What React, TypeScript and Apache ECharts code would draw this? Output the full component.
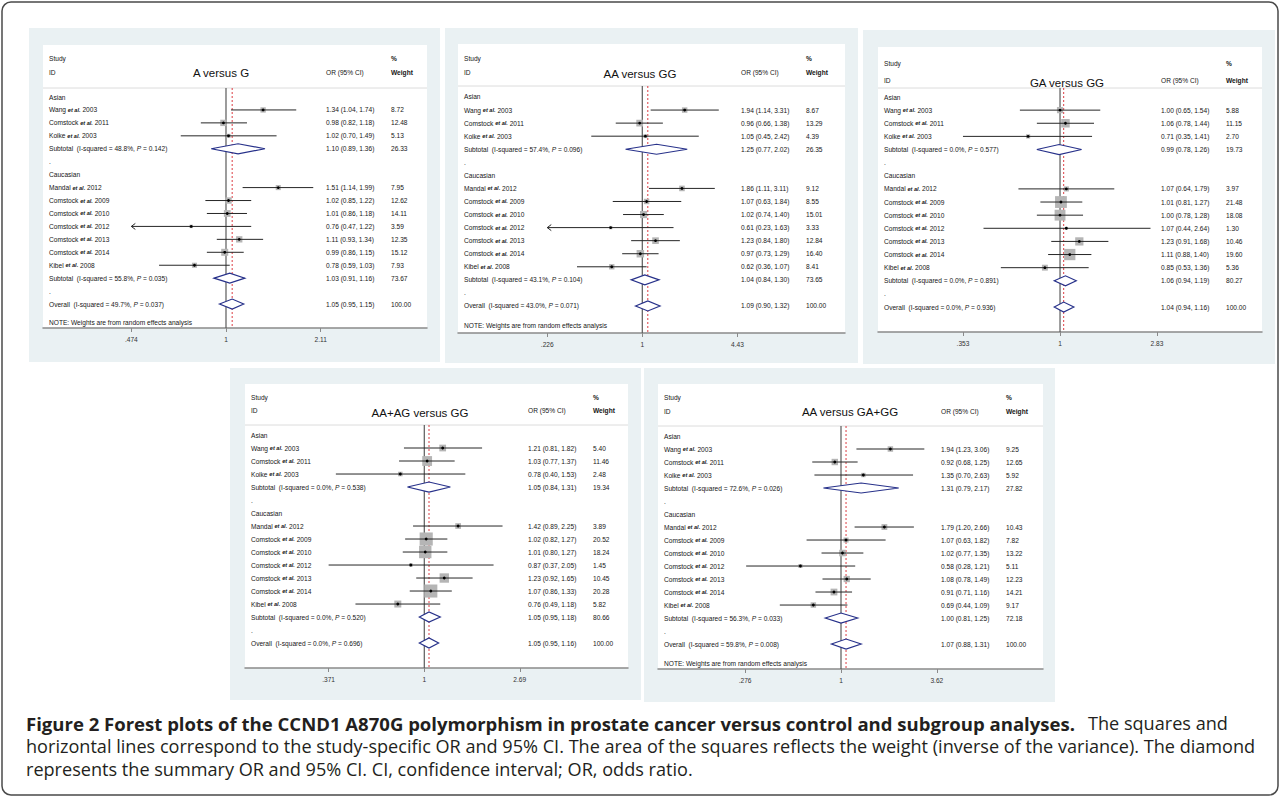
import React, { useEffect, useRef } from "react";
import * as echarts from "echarts";

// ---------- DATA ----------
const asianStudies = ["Wang", "Comstock", "Koike"];
const asianYears = ["2003", "2011", "2003"];
const caucasianStudies = ["Mandal", "Comstock", "Comstock", "Comstock", "Comstock", "Comstock", "Kibel"];
const caucasianYears = ["2012", "2009", "2010", "2012", "2013", "2014", "2008"];

const titles = ["A versus G", "AA versus GG", "GA versus GG", "AA+AG versus GG", "AA versus GA+GG"];

// order in every array: 3 Asian studies, Asian subtotal, 7 Caucasian studies, Caucasian subtotal, overall
const orAvG = [1.34, 0.98, 1.02, 1.1, 1.51, 1.02, 1.01, 0.76, 1.11, 0.99, 0.78, 1.03, 1.05];
const loAvG = [1.04, 0.82, 0.7, 0.89, 1.14, 0.85, 0.86, 0.47, 0.93, 0.86, 0.59, 0.91, 0.95];
const hiAvG = [1.74, 1.18, 1.49, 1.36, 1.99, 1.22, 1.18, 1.22, 1.34, 1.15, 1.03, 1.16, 1.15];
const wAvG = [8.72, 12.48, 5.13, 26.33, 7.95, 12.62, 14.11, 3.59, 12.35, 15.12, 7.93, 73.67, 100.0];
const i2AvG = ["48.8%", "55.8%", "49.7%"];
const pAvG = ["0.142", "0.035", "0.037"];
const ticksAvG = [0.474, 1, 2.11];
const tickLabelsAvG = [".474", "1", "2.11"];

const orAAvGG = [1.94, 0.96, 1.05, 1.25, 1.86, 1.07, 1.02, 0.61, 1.23, 0.97, 0.62, 1.04, 1.09];
const loAAvGG = [1.14, 0.66, 0.45, 0.77, 1.11, 0.63, 0.74, 0.225, 0.84, 0.73, 0.36, 0.84, 0.9];
const hiAAvGG = [3.31, 1.38, 2.42, 2.02, 3.11, 1.84, 1.4, 1.63, 1.8, 1.29, 1.07, 1.3, 1.32];
const wAAvGG = [8.67, 13.29, 4.39, 26.35, 9.12, 8.55, 15.01, 3.33, 12.84, 16.4, 8.41, 73.65, 100.0];
const i2AAvGG = ["57.4%", "43.1%", "43.0%"];
const pAAvGG = ["0.096", "0.104", "0.071"];
const ticksAAvGG = [0.226, 1, 4.43];
const tickLabelsAAvGG = [".226", "1", "4.43"];

const orGAvGG = [1.0, 1.06, 0.71, 0.99, 1.07, 1.01, 1.0, 1.07, 1.23, 1.11, 0.85, 1.06, 1.04];
const loGAvGG = [0.65, 0.78, 0.353, 0.78, 0.64, 0.81, 0.78, 0.44, 0.91, 0.88, 0.53, 0.94, 0.94];
const hiGAvGG = [1.54, 1.44, 1.41, 1.26, 1.79, 1.27, 1.28, 2.64, 1.68, 1.4, 1.36, 1.19, 1.16];
const wGAvGG = [5.88, 11.15, 2.7, 19.73, 3.97, 21.48, 18.08, 1.3, 10.46, 19.6, 5.36, 80.27, 100.0];
const i2GAvGG = ["0.0%", "0.0%", "0.0%"];
const pGAvGG = ["0.577", "0.891", "0.936"];
const ticksGAvGG = [0.353, 1, 2.83];
const tickLabelsGAvGG = [".353", "1", "2.83"];

const orDom = [1.21, 1.03, 0.78, 1.05, 1.42, 1.02, 1.01, 0.87, 1.23, 1.07, 0.76, 1.05, 1.05];
const loDom = [0.81, 0.77, 0.4, 0.84, 0.89, 0.82, 0.8, 0.371, 0.92, 0.86, 0.49, 0.95, 0.95];
const hiDom = [1.82, 1.37, 1.53, 1.31, 2.25, 1.27, 1.27, 2.05, 1.65, 1.33, 1.18, 1.18, 1.16];
const wDom = [5.4, 11.46, 2.48, 19.34, 3.89, 20.52, 18.24, 1.45, 10.45, 20.28, 5.82, 80.66, 100.0];
const i2Dom = ["0.0%", "0.0%", "0.0%"];
const pDom = ["0.538", "0.520", "0.696"];
const ticksDom = [0.371, 1, 2.69];
const tickLabelsDom = [".371", "1", "2.69"];

const orRec = [1.94, 0.92, 1.35, 1.31, 1.79, 1.07, 1.02, 0.58, 1.08, 0.91, 0.69, 1.0, 1.07];
const loRec = [1.23, 0.68, 0.7, 0.79, 1.2, 0.63, 0.77, 0.28, 0.78, 0.71, 0.44, 0.81, 0.88];
const hiRec = [3.06, 1.25, 2.63, 2.17, 2.66, 1.82, 1.35, 1.21, 1.49, 1.16, 1.09, 1.25, 1.31];
const wRec = [9.25, 12.65, 5.92, 27.82, 10.43, 7.82, 13.22, 5.11, 12.23, 14.21, 9.17, 72.18, 100.0];
const i2Rec = ["72.6%", "56.3%", "59.8%"];
const pRec = ["0.026", "0.033", "0.008"];
const ticksRec = [0.276, 1, 3.62];
const tickLabelsRec = [".276", "1", "3.62"];

const noteText = "NOTE: Weights are from random effects analysis";
const captionBold = "Figure 2 Forest plots of the CCND1 A870G polymorphism in prostate cancer versus control and subgroup analyses.";
const captionLine1Rest = "The squares and";
const captionLine2 = "horizontal lines correspond to the study-specific OR and 95% CI. The area of the squares reflects the weight (inverse of the variance). The diamond";
const captionLine3 = "represents the summary OR and 95% CI. CI, confidence interval; OR, odds ratio.";

// ---------- LAYOUT / STYLE ----------
const FF = '"Liberation Sans", Arial, Helvetica, sans-serif';
const CAP_FF = '"Open Sans", "Noto Sans", sans-serif';
const FS = 6.6;
const BG = "#eaf1f3";
const TXT = "#161616";

const panelData = [
  { or: orAvG, lo: loAvG, hi: hiAvG, w: wAvG, i2: i2AvG, p: pAvG, ticks: ticksAvG, tl: tickLabelsAvG, note: true },
  { or: orAAvGG, lo: loAAvGG, hi: hiAAvGG, w: wAAvGG, i2: i2AAvGG, p: pAAvGG, ticks: ticksAAvGG, tl: tickLabelsAAvGG, note: true },
  { or: orGAvGG, lo: loGAvGG, hi: hiGAvGG, w: wGAvGG, i2: i2GAvGG, p: pGAvGG, ticks: ticksGAvGG, tl: tickLabelsGAvGG, note: false },
  { or: orDom, lo: loDom, hi: hiDom, w: wDom, i2: i2Dom, p: pDom, ticks: ticksDom, tl: tickLabelsDom, note: false },
  { or: orRec, lo: loRec, hi: hiRec, w: wRec, i2: i2Rec, p: pRec, ticks: ticksRec, tl: tickLabelsRec, note: true },
];

const layouts = [
  { il: 43, it: 45, ir: 427, ib: 328, outer: [29, 28, 440, 362], sep: 88, studyY: 58, idY: 72, titleY: 73, titleX: 178, lnMin: -1.443, lnMax: 1.585, yMin: -0.696, yMax: 17.85, k: 1.8 },
  { il: 458, it: 44, ir: 845, ib: 333, outer: [445, 28, 858, 363], sep: 86, studyY: 58, idY: 72, titleY: 74, titleX: 182, lnMin: -2.884, lnMax: 3.172, yMin: -0.842, yMax: 18.07, k: 1.85 },
  { il: 878, it: 47, ir: 1262, ib: 332, outer: [863, 30, 1275, 364], sep: 88, studyY: 63, idY: 80, titleY: 83, titleX: 189, lnMin: -1.953, lnMax: 2.167, yMin: -0.686, yMax: 17.9, k: 2.55 },
  { il: 245, it: 384, ir: 628, ib: 668, outer: [230, 368, 641, 700], sep: 425, studyY: 397, idY: 410, titleY: 413, titleX: 175, lnMin: -1.858, lnMax: 2.111, yMin: -0.77, yMax: 17.92, k: 2.9 },
  { il: 658, it: 384, ir: 1043, ib: 669, outer: [644, 368, 1055, 702], sep: 426, studyY: 397, idY: 411, titleY: 412, titleX: 192, lnMin: -2.456, lnMax: 2.711, yMin: -0.77, yMax: 17.92, k: 1.8 },
];

const OR_COL = 283;
const W_COL = 348;
const NAME_COL = 6;

type Row = { row: number; kind: "label" | "study" | "diamond"; text: string; idx?: number };

function buildRows(note: boolean): Row[] {
  const rows: Row[] = [];
  rows.push({ row: 0, kind: "label", text: "Asian" });
  asianStudies.forEach((s, i) => rows.push({ row: 1 + i, kind: "study", text: `${s} {i|et al.} ${asianYears[i]}`, idx: i }));
  rows.push({ row: 4, kind: "diamond", text: "sub0", idx: 3 });
  rows.push({ row: 5, kind: "label", text: "." });
  rows.push({ row: 6, kind: "label", text: "Caucasian" });
  caucasianStudies.forEach((s, i) => rows.push({ row: 7 + i, kind: "study", text: `${s} {i|et al.} ${caucasianYears[i]}`, idx: 4 + i }));
  rows.push({ row: 14, kind: "diamond", text: "sub1", idx: 11 });
  rows.push({ row: 15, kind: "label", text: "." });
  rows.push({ row: 16, kind: "diamond", text: "overall", idx: 12 });
  if (note) rows.push({ row: 17.46, kind: "label", text: noteText });
  return rows;
}

const nameRich = {
  i: { fontStyle: "italic", fontWeight: "bold", fontSize: 5.6, fontFamily: FF, fill: TXT },
  ip: { fontStyle: "italic", fontSize: FS, fontFamily: FF, fill: TXT },
};

function txt(text: string, x: number, y: number, extra: any = {}) {
  return {
    type: "text",
    style: {
      text,
      x,
      y,
      fill: TXT,
      fontSize: FS,
      fontFamily: FF,
      align: "left",
      textAlign: "left",
      verticalAlign: "middle",
      textVerticalAlign: "middle",
      rich: nameRich,
      ...extra,
    },
  };
}

function capText(text: string, x: number, y: number, align: string, bold: boolean) {
  return {
    type: "text",
    z: 10,
    style: {
      text,
      x,
      y,
      fill: "#231f20",
      fontSize: bold ? 18.55 : 18.1,
      fontWeight: bold ? "bold" : "normal",
      fontFamily: CAP_FF,
      align,
      textAlign: align,
      verticalAlign: "middle",
      textVerticalAlign: "middle",
    },
  };
}

function buildOption() {
  const grids: any[] = [];
  const xAxes: any[] = [];
  const yAxes: any[] = [];
  const series: any[] = [];
  const elements: any[] = [];

  // figure border
  elements.push({
    type: "rect",
    z: -20,
    shape: { x: 2, y: 2, width: 1276, height: 793, r: 9 },
    style: { fill: "#ffffff", stroke: "#4a4a4a", lineWidth: 1.5 },
  });

  panelData.forEach((pd, pi) => {
    const L = layouts[pi];
    const tickVals = pd.ticks.map((t) => Math.log(t));
    const lnTLo = tickVals[0];
    const lnTHi = tickVals[2];
    grids.push({ left: L.il, top: L.sep, width: L.ir - L.il, height: L.ib - L.sep, containLabel: false });
    xAxes.push({
      type: "value",
      gridIndex: pi,
      min: L.lnMin,
      max: L.lnMax,
      axisLine: { show: true, onZero: false, lineStyle: { color: "#8a8a8a", width: 1.5 } },
      axisTick: { show: true, inside: false, length: 4, customValues: tickVals, lineStyle: { color: "#8a8a8a", width: 1 } },
      axisLabel: {
        show: true,
        customValues: tickVals,
        margin: 8,
        fontSize: FS,
        fontFamily: FF,
        color: "#333",
        formatter: (v: number) => {
          const j = tickVals.findIndex((t) => Math.abs(t - v) < 1e-6);
          return j >= 0 ? pd.tl[j] : "";
        },
      },
      splitLine: { show: false },
    });
    yAxes.push({ type: "value", gridIndex: pi, inverse: true, min: L.yMin, max: L.yMax, show: false });

    // reference lines (OR = 1 and overall OR)
    const lnOverall = Math.log(pd.or[12]);
    series.push({
      type: "custom",
      xAxisIndex: pi,
      yAxisIndex: pi,
      silent: true,
      clip: false,
      z: 2,
      data: [[0, 0]],
      renderItem: (params: any, api: any) => {
        const cs = params.coordSys;
        const x1 = api.coord([0, 0])[0];
        const xo = api.coord([lnOverall, 0])[0];
        return {
          type: "group",
          children: [
            { type: "line", shape: { x1: x1, y1: cs.y, x2: x1, y2: cs.y + cs.height }, style: { stroke: "#5a5a5a", lineWidth: 1.2 } },
            { type: "line", shape: { x1: xo, y1: cs.y, x2: xo, y2: cs.y + cs.height }, style: { stroke: "#d8282f", lineWidth: 0.9, lineDash: [2, 2] } },
          ],
        };
      },
    });

    const rows = buildRows(pd.note);
    series.push({
      type: "custom",
      xAxisIndex: pi,
      yAxisIndex: pi,
      silent: true,
      clip: false,
      z: 3,
      data: rows.map((r) => [r.idx != null ? Math.log(pd.or[r.idx]) : 0, r.row]),
      renderItem: (params: any, api: any) => {
        const r = rows[params.dataIndex];
        const cs = params.coordSys;
        const y = api.coord([0, r.row])[1];
        const children: any[] = [];
        let label = r.text;
        if (r.kind === "diamond") {
          const head = r.text === "overall" ? "Overall" : "Subtotal";
          const hi = r.text === "sub0" ? 0 : r.text === "sub1" ? 1 : 2;
          label = `${head}  (I-squared = ${pd.i2[hi]}, {ip|P} = ${pd.p[hi]})`;
        }
        children.push(txt(label, cs.x + NAME_COL, y));
        if (r.idx != null) {
          const j = r.idx;
          const orv = pd.or[j];
          const lov = pd.lo[j];
          const hiv = pd.hi[j];
          children.push(txt(`${orv.toFixed(2)} (${lov.toFixed(2)}, ${hiv.toFixed(2)})`, cs.x + OR_COL, y));
          children.push(txt(pd.w[j].toFixed(2), cs.x + W_COL, y));
          const lnLo = Math.log(lov);
          const lnHi = Math.log(hiv);
          const xc = api.coord([Math.log(orv), r.row])[0];
          if (r.kind === "study") {
            const x0 = api.coord([Math.max(lnLo, lnTLo), r.row])[0];
            const x1 = api.coord([Math.min(lnHi, lnTHi), r.row])[0];
            const s = L.k * Math.sqrt(pd.w[j]);
            children.push({ type: "rect", shape: { x: xc - s / 2, y: y - s / 2, width: s, height: s }, style: { fill: "#b5b5b5" } });
            children.push({ type: "line", shape: { x1: x0, y1: y, x2: x1, y2: y }, style: { stroke: "#262626", lineWidth: 1 } });
            children.push({ type: "circle", shape: { cx: xc, cy: y, r: 1.4 }, style: { fill: "#000" } });
            if (lnLo < lnTLo - 1e-9) {
              children.push({
                type: "polyline",
                shape: { points: [[x0 + 4, y - 3], [x0, y], [x0 + 4, y + 3]] },
                style: { stroke: "#262626", lineWidth: 1, fill: "none" },
              });
            }
          } else {
            const x0 = api.coord([lnLo, r.row])[0];
            const x1 = api.coord([lnHi, r.row])[0];
            children.push({
              type: "polygon",
              shape: { points: [[x0, y], [xc, y - 5], [x1, y], [xc, y + 5]] },
              style: { fill: "#ffffff", stroke: "#27318a", lineWidth: 1.2 },
            });
          }
        }
        return { type: "group", children };
      },
    });

    // panel backgrounds & header
    const [ox0, oy0, ox1, oy1] = L.outer;
    elements.push({ type: "rect", z: -15, shape: { x: ox0, y: oy0, width: ox1 - ox0, height: oy1 - oy0 }, style: { fill: BG } });
    elements.push({ type: "rect", z: -14, shape: { x: L.il, y: L.it, width: L.ir - L.il, height: L.ib - L.it }, style: { fill: "#ffffff" } });
    elements.push({ type: "line", z: -13, shape: { x1: L.il, y1: L.sep, x2: L.ir, y2: L.sep }, style: { stroke: "#dcdcdc", lineWidth: 1 } });
    const hdr = (t: string, x: number, y: number, extra: any = {}) => ({ ...txt(t, x, y, extra), z: 10 });
    elements.push(hdr("Study", L.il + NAME_COL, L.studyY));
    elements.push(hdr("ID", L.il + NAME_COL, L.idY));
    elements.push(hdr("OR (95% CI)", L.il + OR_COL, L.idY));
    elements.push(hdr("%", L.il + W_COL, L.studyY, { fontWeight: "bold" }));
    elements.push(hdr("Weight", L.il + W_COL, L.idY, { fontWeight: "bold" }));
    elements.push(hdr(titles[pi], L.il + L.titleX, L.titleY, { fontSize: 11.5, align: "center", textAlign: "center", fill: "#111" }));
  });

  // caption
  const capY = 723;
  elements.push(capText(captionBold, 26, capY, "left", true));
  elements.push(capText(captionLine1Rest, 1088, capY, "left", false));
  elements.push(capText(captionLine2, 26, capY + 23, "left", false));
  elements.push(capText(captionLine3, 26, capY + 46, "left", false));

  return {
    animation: false,
    backgroundColor: "#ffffff",
    grid: grids,
    xAxis: xAxes,
    yAxis: yAxes,
    series,
    graphic: { elements },
  };
}

export default function App() {
  const ref = useRef<HTMLDivElement>(null);
  useEffect(() => {
    if (!ref.current) return;
    const chart = echarts.init(ref.current, undefined, { renderer: "svg" });
    chart.setOption(buildOption() as any);
    return () => chart.dispose();
  }, []);
  return (
    <div
      ref={ref}
      style={{ position: "fixed", left: 0, top: 0, width: 1281, height: 798, background: "#fff" }}
    />
  );
}
